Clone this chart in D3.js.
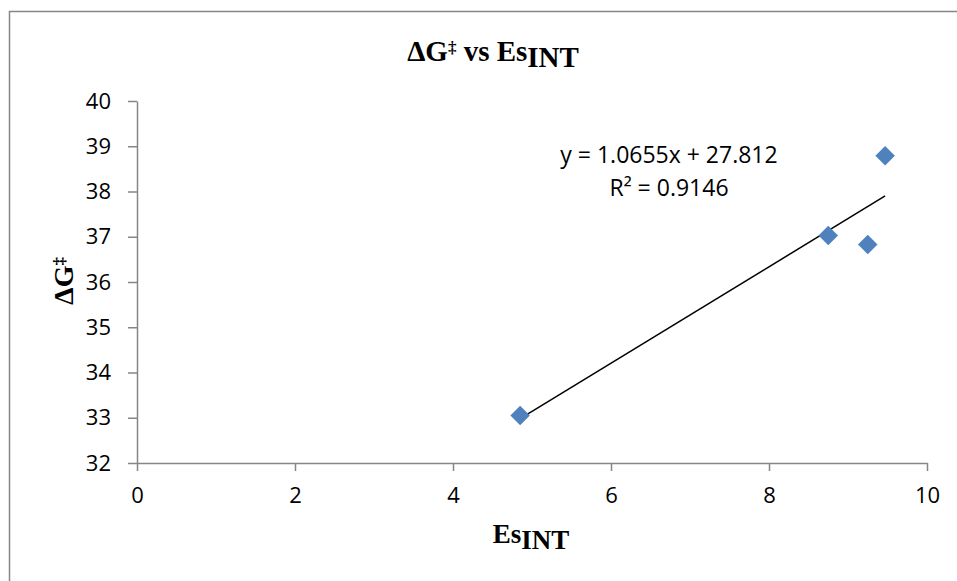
<!DOCTYPE html>
<html>
<head>
<meta charset="utf-8">
<script src="https://cdn.jsdelivr.net/npm/d3@7"></script>
<style>
  body { margin: 0; background: #fff; }
  .tick text { font-family: "Open Sans", sans-serif; font-size: 22px; fill: #000; }
  .serif { font-family: "Liberation Serif", "Times New Roman", serif; font-weight: bold; }
</style>
</head>
<body>
<div id="chart"></div>
<script>
// data
const esInt = [4.85, 8.75, 9.25, 9.47];
const deltaG = [33.05, 37.03, 36.83, 38.79];
const xTicks = [0, 2, 4, 6, 8, 10];
const yTicks = [32, 33, 34, 35, 36, 37, 38, 39, 40];
const slope = 1.0655;
const intercept = 27.812;
const rSquared = 0.9146;

const width = 957;
const height = 581;

const svg = d3.select('#chart')
    .append('svg')
    .attr('width', width)
    .attr('height', height);

// chart frame
svg.append('path')
    .attr('d', 'M9.5,' + height + 'V11.5H' + width)
    .attr('fill', 'none')
    .attr('stroke', '#868686')
    .attr('stroke-width', 1.5);

const x = d3.scaleLinear().domain([0, 10]).range([137, 927]);
const y = d3.scaleLinear().domain([32, 40]).range([463, 101]);

const xAxis = svg.append('g')
    .attr('transform', 'translate(0,463)')
    .call(d3.axisBottom(x).tickValues(xTicks).tickSize(8).tickPadding(16).tickSizeOuter(0));

const yAxis = svg.append('g')
    .attr('transform', 'translate(137,0)')
    .call(d3.axisLeft(y).tickValues(yTicks).tickSize(9).tickPadding(17).tickSizeOuter(0));

[xAxis, yAxis].forEach(g => {
    g.select('.domain').attr('stroke', '#868686').attr('stroke-width', 1.5);
    g.selectAll('.tick line').attr('stroke', '#868686').attr('stroke-width', 1.5);
});

// trendline over the data range
const xs = d3.extent(esInt);
svg.append('line')
    .attr('x1', x(xs[0]))
    .attr('y1', y(slope * xs[0] + intercept))
    .attr('x2', x(xs[1]))
    .attr('y2', y(slope * xs[1] + intercept))
    .attr('stroke', '#000')
    .attr('stroke-width', 1.5);

// markers
svg.selectAll('.pt')
    .data(esInt.map((v, i) => [v, deltaG[i]]))
    .enter()
    .append('path')
    .attr('class', 'pt')
    .attr('d', d3.symbol().type(d3.symbolSquare).size(190))
    .attr('transform', d => `translate(${x(d[0])},${y(d[1])}) rotate(45)`)
    .attr('fill', '#4F81BD');

// equation label
const eq = svg.append('text')
    .attr('text-anchor', 'middle')
    .attr('font-family', '"Open Sans", sans-serif')
    .attr('font-size', 23)
    .attr('fill', '#000');
eq.append('tspan').attr('x', 669).attr('y', 163)
    .text('y = ' + slope + 'x + ' + intercept);
eq.append('tspan').attr('x', 669).attr('y', 196)
    .text('R\u00B2 = ' + rSquared);

// title
const title = svg.append('text')
    .attr('class', 'serif')
    .attr('x', 493)
    .attr('y', 61)
    .attr('text-anchor', 'middle')
    .attr('font-size', 29);
title.append('tspan').text('\u0394G');
title.append('tspan').attr('font-size', 17).attr('dy', -8).text('\u2021');
title.append('tspan').attr('dy', 8).text(' vs Es');
title.append('tspan').attr('dy', 6).text('INT');

// x axis title
const xt = svg.append('text')
    .attr('class', 'serif')
    .attr('x', 531)
    .attr('y', 543)
    .attr('text-anchor', 'middle')
    .attr('font-size', 27);
xt.append('tspan').text('Es');
xt.append('tspan').attr('dy', 6).text('INT');

// y axis title
const yt = svg.append('text')
    .attr('class', 'serif')
    .attr('transform', 'translate(73,281) rotate(-90)')
    .attr('text-anchor', 'middle')
    .attr('font-size', 28);
yt.append('tspan').text('\u0394G');
yt.append('tspan').attr('font-size', 17).attr('dy', -8).text('\u2021');
</script>
</body>
</html>
